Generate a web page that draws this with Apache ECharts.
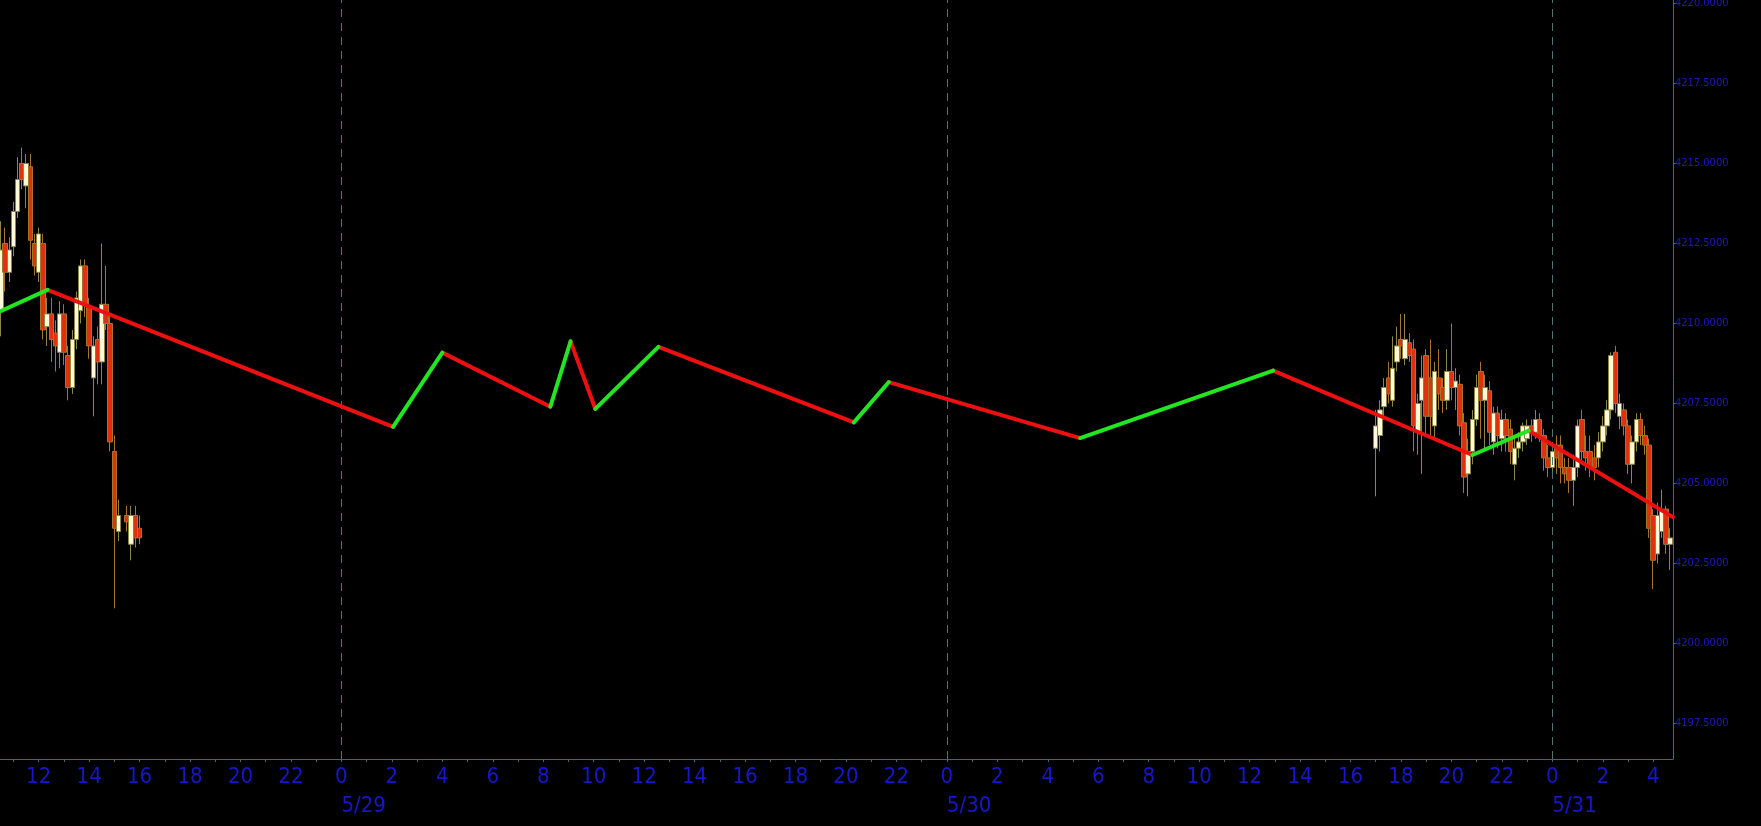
<!DOCTYPE html>
<html>
<head>
<meta charset="utf-8">
<title>zigzag k-line</title>
<script src="https://cdn.jsdelivr.net/npm/echarts@6/dist/echarts.min.js"></script>
<style>
  html, body { margin: 0; padding: 0; background: #000; }
  #kChart { width: 1761px; height: 826px; }
</style>
</head>
<body>
<div id="kChart"></div>
<script>
  // 10 minute bars
  var candleTimes = [
    '05-28 10:30', '05-28 10:40', '05-28 10:50', '05-28 11:00', '05-28 11:10', '05-28 11:20',
    '05-28 11:30', '05-28 11:40', '05-28 11:50', '05-28 12:00', '05-28 12:10', '05-28 12:20',
    '05-28 12:30', '05-28 12:40', '05-28 12:50', '05-28 13:00', '05-28 13:10', '05-28 13:20',
    '05-28 13:30', '05-28 13:40', '05-28 13:50', '05-28 14:00', '05-28 14:10', '05-28 14:20',
    '05-28 14:30', '05-28 14:40', '05-28 14:50', '05-28 15:00', '05-28 15:10', '05-28 15:30',
    '05-28 15:40', '05-28 15:50', '05-28 16:00',
    '05-30 17:00', '05-30 17:10', '05-30 17:20', '05-30 17:30', '05-30 17:40', '05-30 17:50',
    '05-30 18:00', '05-30 18:10', '05-30 18:20', '05-30 18:30', '05-30 18:40', '05-30 18:50',
    '05-30 19:00', '05-30 19:10', '05-30 19:20', '05-30 19:30', '05-30 19:40', '05-30 19:50',
    '05-30 20:00', '05-30 20:10', '05-30 20:20', '05-30 20:30', '05-30 20:40', '05-30 20:50',
    '05-30 21:00', '05-30 21:10', '05-30 21:20', '05-30 21:30', '05-30 21:40', '05-30 21:50',
    '05-30 22:00', '05-30 22:10', '05-30 22:20', '05-30 22:30', '05-30 22:40', '05-30 22:50',
    '05-30 23:00', '05-30 23:10', '05-30 23:20', '05-30 23:30', '05-30 23:40', '05-30 23:50',
    '05-31 00:00', '05-31 00:10', '05-31 00:20', '05-31 00:30', '05-31 00:40', '05-31 00:50',
    '05-31 01:00', '05-31 01:10', '05-31 01:20', '05-31 01:30', '05-31 01:40', '05-31 01:50',
    '05-31 02:00', '05-31 02:10', '05-31 02:20', '05-31 02:30', '05-31 02:40', '05-31 02:50',
    '05-31 03:00', '05-31 03:10', '05-31 03:20', '05-31 03:30', '05-31 03:40', '05-31 03:50',
    '05-31 04:00', '05-31 04:10', '05-31 04:20', '05-31 04:30', '05-31 04:40'
  ];
  var candleOpen = [
    4210.4, 4212.5, 4211.6, 4212.4, 4213.5, 4215.0, 4214.3, 4214.9, 4212.5, 4211.6, 4212.5, 4209.9,
    4210.3, 4209.7, 4209.1, 4210.3, 4209.0, 4208.0, 4209.5, 4210.4, 4211.8, 4210.5, 4208.3, 4209.5,
    4208.8, 4210.6, 4210.0, 4206.0, 4203.5, 4204.0, 4203.1, 4204.0, 4203.6,
    4206.1, 4206.5, 4207.4, 4208.3, 4207.6, 4208.8, 4209.5, 4208.9, 4209.4, 4209.2, 4206.6, 4207.6,
    4209.0, 4208.3, 4206.8, 4208.3, 4208.0, 4207.6, 4208.5, 4208.0, 4208.1, 4206.9, 4205.3, 4206.0,
    4207.0, 4208.5, 4207.6, 4207.9, 4206.3, 4207.2, 4206.4, 4207.0, 4206.7, 4205.6, 4206.1, 4206.3,
    4206.4, 4206.8, 4206.6, 4207.0, 4206.5, 4205.8, 4205.5, 4206.2, 4206.2, 4205.5, 4205.5, 4205.1,
    4205.5, 4207.0, 4206.0, 4206.0, 4205.8, 4205.8, 4206.3, 4206.8, 4207.3, 4209.1, 4207.1, 4207.3,
    4206.8, 4205.6, 4206.3, 4207.0, 4206.5, 4206.2, 4204.0, 4202.8, 4203.5, 4204.2, 4203.1
  ];
  var candleClose = [
    4212.3, 4211.6, 4212.3, 4213.5, 4214.5, 4214.5, 4215.0, 4212.6, 4211.8, 4212.8, 4209.8, 4210.3,
    4209.5, 4209.3, 4210.3, 4209.1, 4208.0, 4209.5, 4210.8, 4211.8, 4210.6, 4209.3, 4209.3, 4208.8,
    4210.6, 4210.0, 4206.3, 4203.6, 4204.0, 4203.8, 4204.0, 4203.3, 4203.3,
    4206.8, 4207.3, 4208.0, 4207.8, 4208.6, 4209.3, 4209.3, 4209.5, 4209.0, 4206.8, 4207.5, 4208.3,
    4207.1, 4207.1, 4208.5, 4207.8, 4207.6, 4208.5, 4208.0, 4208.2, 4206.8, 4205.2, 4206.0, 4207.0,
    4208.0, 4207.6, 4208.0, 4206.6, 4207.2, 4206.5, 4207.0, 4206.5, 4206.0, 4206.1, 4206.3, 4206.8,
    4206.8, 4206.6, 4207.0, 4206.5, 4205.8, 4205.5, 4206.0, 4205.8, 4205.5, 4205.3, 4205.1, 4205.5,
    4206.8, 4206.0, 4205.8, 4205.5, 4205.5, 4206.3, 4206.8, 4207.3, 4209.0, 4207.5, 4207.5, 4206.8,
    4205.6, 4206.3, 4207.0, 4206.5, 4206.2, 4203.6, 4202.6, 4204.0, 4204.2, 4203.1, 4203.3
  ];
  var candleLow = [
    4209.6, 4211.0, 4211.3, 4212.1, 4213.3, 4214.2, 4213.6, 4212.0, 4211.5, 4211.3, 4209.5, 4209.3,
    4208.8, 4208.5, 4208.6, 4208.7, 4207.6, 4207.8, 4209.2, 4210.0, 4210.2, 4208.9, 4207.1, 4208.1,
    4208.1, 4209.8, 4206.0, 4201.1, 4203.2, 4203.5, 4202.6, 4203.0, 4203.1,
    4204.6, 4206.0, 4207.0, 4207.5, 4207.4, 4208.5, 4208.9, 4208.7, 4208.8, 4206.0, 4205.9, 4205.3,
    4206.5, 4206.5, 4206.4, 4207.3, 4207.2, 4207.3, 4207.6, 4207.3, 4206.5, 4204.7, 4204.6, 4205.6,
    4206.8, 4206.4, 4206.0, 4206.2, 4205.9, 4206.1, 4206.0, 4206.0, 4205.6, 4205.1, 4205.8, 4206.0,
    4206.2, 4206.3, 4206.4, 4206.3, 4205.4, 4205.2, 4205.2, 4205.3, 4205.0, 4205.0, 4204.7, 4204.3,
    4205.2, 4205.7, 4205.4, 4205.2, 4205.1, 4205.5, 4206.0, 4206.5, 4207.0, 4207.2, 4206.7, 4206.5,
    4205.3, 4205.0, 4206.0, 4206.2, 4205.9, 4203.3, 4201.7, 4202.5, 4203.3, 4202.8, 4202.3
  ];
  var candleHigh = [
    4213.2, 4213.0, 4212.7, 4213.8, 4215.2, 4215.5, 4215.3, 4215.3, 4212.8, 4213.0, 4212.8, 4210.8,
    4210.8, 4210.1, 4210.7, 4210.6, 4209.3, 4209.8, 4211.0, 4212.0, 4212.0, 4210.8, 4209.6, 4209.9,
    4212.5, 4211.8, 4210.3, 4206.5, 4204.5, 4204.3, 4204.3, 4204.3, 4204.0,
    4207.3, 4207.6, 4208.3, 4208.8, 4209.6, 4209.9, 4210.3, 4210.3, 4209.7, 4209.5, 4207.8, 4209.0,
    4209.2, 4209.5, 4208.8, 4209.2, 4208.3, 4209.2, 4210.0, 4208.6, 4208.4, 4207.2, 4206.4, 4207.3,
    4208.4, 4208.8, 4208.4, 4208.2, 4207.4, 4207.4, 4207.3, 4207.2, 4207.0, 4206.5, 4206.6, 4206.9,
    4207.0, 4207.0, 4207.3, 4207.2, 4206.7, 4206.2, 4206.3, 4206.5, 4206.5, 4205.8, 4205.8, 4205.9,
    4207.0, 4207.3, 4206.5, 4206.5, 4206.2, 4206.6, 4207.1, 4207.6, 4209.1, 4209.3, 4207.8, 4207.5,
    4207.0, 4206.5, 4207.2, 4207.2, 4206.8, 4206.4, 4204.2, 4204.4, 4204.8, 4204.3, 4203.6
  ];

  // zigzag pivots
  var zigTimes = [
    '05-28 10:28', '05-28 12:21', '05-29 02:03', '05-29 04:00', '05-29 08:17', '05-29 09:05',
    '05-29 10:04', '05-29 12:34', '05-29 20:19', '05-29 21:42', '05-30 05:17', '05-30 12:56',
    '05-30 20:50', '05-30 23:04', '05-31 04:47'
  ];
  var zigValues = [
    4210.38, 4211.05, 4206.77, 4209.09, 4207.40, 4209.44,
    4207.33, 4209.27, 4206.91, 4208.17, 4206.42, 4208.53,
    4205.89, 4206.65, 4203.95
  ];

  var dayStarts = ['05-29 00:00', '05-30 00:00', '05-31 00:00'];
  var dayLabels = ['5/29', '5/30', '5/31'];
  var priceTicks = [4197.5, 4200, 4202.5, 4205, 4207.5, 4210, 4212.5, 4215, 4217.5, 4220];

  var axisStart = '05-28 10:28';
  var axisEnd = '05-31 04:47';
  var priceMin = 4196.39;
  var priceMax = 4220.11;

  // hours counted from 5/29 00:00
  function toHour(s) {
    var parts = s.split(' ');
    var day = +parts[0].split('-')[1];
    var hm = parts[1].split(':');
    return (day - 29) * 24 + (+hm[0]) + (+hm[1]) / 60;
  }

  var xMin = toHour(axisStart);
  var xMax = toHour(axisEnd);
  var hourTicks = [];
  var hourLabels = [];
  for (var h = Math.ceil(xMin); h <= xMax; h++) {
    hourTicks.push(h);
    if (h % 2 === 0) hourLabels.push(h);
  }
  var dayHours = dayStarts.map(toHour);

  var candleData = candleTimes.map(function (t, i) {
    return [toHour(t), candleOpen[i], candleClose[i], candleLow[i], candleHigh[i]];
  });

  var upLine = [];
  var downLine = [];
  for (var i = 1; i < zigTimes.length; i++) {
    var a = [toHour(zigTimes[i - 1]), zigValues[i - 1]];
    var b = [toHour(zigTimes[i]), zigValues[i]];
    var target = zigValues[i] > zigValues[i - 1] ? upLine : downLine;
    target.push(a, b, [b[0], '-']);
  }

  var axisColor = '#3f6b6d';
  var textBlue = '#1616cc';
  var labelFont = "'DejaVu Sans Condensed', 'DejaVu Sans', sans-serif";

  var kChart = echarts.init(document.getElementById('kChart'));
  kChart.setOption({
    backgroundColor: '#000000',
    animation: false,
    grid: { left: 0, right: 88, top: 0, bottom: 67, outerBoundsMode: 'none', containLabel: false },
    xAxis: [{
      type: 'value',
      min: xMin,
      max: xMax,
      position: 'bottom',
      axisLine: { show: true, onZero: false, lineStyle: { color: axisColor, width: 1 } },
      axisTick: { show: true, length: 3, customValues: hourTicks, lineStyle: { color: axisColor } },
      axisLabel: {
        customValues: hourLabels,
        formatter: function (v) { return String(((Math.round(v) % 24) + 24) % 24); },
        color: textBlue,
        fontSize: 22,
        fontFamily: labelFont,
        margin: 7
      },
      splitLine: { show: false }
    }, {
      type: 'value',
      min: xMin,
      max: xMax,
      position: 'bottom',
      offset: 29,
      axisLine: { show: false },
      axisTick: { show: false },
      axisLabel: {
        customValues: dayHours,
        formatter: function (v) {
          var idx = dayHours.indexOf(v);
          return idx >= 0 ? dayLabels[idx] : '';
        },
        align: 'left',
        color: textBlue,
        fontSize: 22,
        fontFamily: labelFont,
        margin: 7
      },
      splitLine: { show: false }
    }],
    yAxis: {
      type: 'value',
      position: 'right',
      min: priceMin,
      max: priceMax,
      axisLine: { show: true, onZero: false, lineStyle: { color: axisColor, width: 1 } },
      axisTick: { show: true, length: 3, customValues: priceTicks, lineStyle: { color: axisColor } },
      axisLabel: {
        customValues: priceTicks,
        formatter: function (v) { return v.toFixed(4); },
        color: '#1c1cb8',
        fontSize: 11,
        fontFamily: labelFont,
        margin: 2
      },
      splitLine: { show: false }
    },
    series: [{
      type: 'candlestick',
      xAxisIndex: 0,
      yAxisIndex: 0,
      barWidth: 5,
      encode: { x: 0, y: [1, 2, 3, 4] },
      itemStyle: {
        color: '#fff9d8',
        color0: '#e0300e',
        borderColor: '#8d8646',
        borderColor0: '#a8742c',
        borderWidth: 1
      },
      data: candleData,
      markLine: {
        silent: true,
        symbol: ['none', 'none'],
        label: { show: false },
        lineStyle: { color: '#4f7475', type: [8, 6], width: 1 },
        data: dayHours.map(function (d) { return { xAxis: d }; })
      }
    }, {
      type: 'line',
      data: downLine,
      symbol: 'none',
      connectNulls: false,
      z: 5,
      lineStyle: { color: '#ee1010', width: 4, cap: 'round' }
    }, {
      type: 'line',
      data: upLine,
      symbol: 'none',
      connectNulls: false,
      z: 5,
      lineStyle: { color: '#22e622', width: 4, cap: 'round' }
    }]
  });
</script>
</body>
</html>
